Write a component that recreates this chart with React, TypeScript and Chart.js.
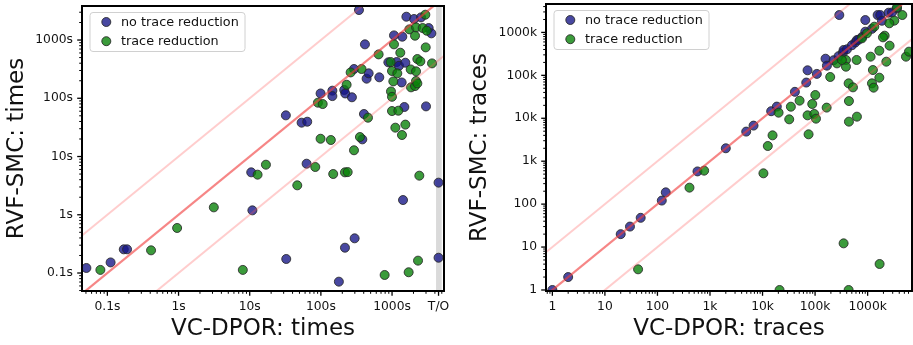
import React, { useEffect, useRef } from 'react';
import { Chart, registerables } from 'chart.js';
Chart.register(...registerables);

const FONT = "'DejaVu Sans', 'Liberation Sans', sans-serif";
const TEXT_COLOR = '#111';

const LEGEND_LABELS = ['no trace reduction', 'trace reduction'];
const BLUE_FILL = 'rgba(20,20,135,0.78)';
const GREEN_FILL = 'rgba(10,130,10,0.8)';
const EDGE = 'rgba(40,40,40,0.85)';

// ---------- Left panel: times ----------
const timeTickVals = [0.1, 1, 10, 100, 1000, 4500];
const timeTickLabels = ['0.1s', '1s', '10s', '100s', '1000s', 'T/O'];
const timeYTickVals = [0.1, 1, 10, 100, 1000];
const timeYTickLabels = ['0.1s', '1s', '10s', '100s', '1000s'];
const timeTimeoutBand = [4150, 4990];

const timesNoRedX = [0.0507, 0.111, 0.17, 0.189, 10.5, 10.9, 32.2, 32.6, 53.6, 64.3, 63.0, 99, 145, 145, 179, 213, 220, 218, 273, 292, 298, 403, 382, 416, 439, 469, 662, 887, 1065, 1161, 1253, 1394, 1365, 1426, 1489, 1538, 1589, 2037, 2554, 3001, 3272, 3568, 4500, 4500, 343];
const timesNoRedY = [0.122, 0.152, 0.255, 0.255, 5.35, 1.19, 50.9, 0.174, 38.1, 39.6, 7.53, 121, 135, 109, 0.071, 139, 121, 0.272, 104, 318, 0.394, 53.7, 19.7, 843, 217, 268, 229, 414, 1202, 419, 362, 1141, 187, 1.79, 70.8, 408, 2515, 2296, 2449, 72.6, 1607, 1302, 3.56, 0.183, 3273];

const timesRedX = [0.0797, 0.411, 0.955, 3.13, 8.0, 12.9, 16.9, 46.6, 83.4, 90.9, 106, 99, 138, 149, 230, 218, 238, 262, 292, 373, 354, 459, 648, 787, 955, 998, 966, 998, 998, 1065, 1042, 1112, 1186, 1225, 1306, 1379, 1538, 1711, 1749, 1828, 1847, 2103, 2103, 2173, 2267, 2173, 2267, 2500, 2317, 2417, 2173, 2692, 2937, 2971, 3070, 3645];
const timesRedY = [0.113, 0.245, 0.593, 1.34, 0.113, 4.88, 7.24, 3.2, 6.61, 84, 79.6, 20.2, 19.2, 5.01, 171, 5.35, 5.4, 278, 12.8, 318, 21.6, 46.4, 567, 0.0925, 419, 294, 131, 106, 60.4, 843, 195, 31.3, 268, 61.2, 606, 23.4, 35.3, 0.103, 1524, 313, 154, 1187, 162, 198, 180, 290, 472, 431, 0.163, 4.69, 1650, 1607, 2723, 748, 1446, 397];

// reference lines y = x, y = 10x, y = x/10
const timeDiagX = [0.001, 100000];
const timeDiagY = [0.001, 100000];
const timeUpperY = [0.01, 1000000];
const timeLowerY = [0.0001, 10000];

// ---------- Right panel: traces ----------
const traceTickVals = [1, 10, 100, 1000, 10000, 100000, 1000000];
const traceTickLabels = ['1', '10', '100', '1k', '10k', '100k', '1000k'];

const tracesNoRedX = [1, 2, 20, 30, 48, 121, 144, 578, 2000, 4890, 6740, 14600, 18700, 41300, 67900, 71900, 108000, 158000, 168000, 289000, 903000, 903000, 1550000, 1740000, 2510000, 225000, 280000, 339000, 349000, 404000, 503000, 582000, 626000, 674000, 780000, 1210000, 1870000, 2910000, 3620000];
const tracesNoRedY = [1, 2, 20, 30, 48, 121, 188, 578, 2000, 4890, 6740, 14600, 18700, 41300, 67900, 131000, 108000, 244000, 168000, 2540000, 1940000, 1040000, 2540000, 2540000, 2880000, 225000, 280000, 339000, 389000, 404000, 503000, 582000, 665000, 674000, 780000, 1210000, 1870000, 2910000, 3620000];

const tracesRedX = [42.8, 407, 774, 10400, 12600, 15500, 20200, 32200, 34600, 50700, 71900, 75200, 88300, 96400, 101000, 104000, 166000, 194000, 21100, 349000, 435000, 1690000, 387000, 387000, 435000, 526000, 441000, 441000, 626000, 617000, 1140000, 1260000, 1210000, 1300000, 1670000, 1670000, 2110000, 1960000, 2620000, 2270000, 3220000, 4570000, 5370000, 6120000, 3620000, 1340000, 2590000, 261000, 324000, 780000, 971000];
const tracesRedY = [3.03, 242, 602, 522, 2260, 4000, 13500, 9440, 18600, 25700, 11700, 4230, 21500, 12600, 34800, 9790, 17700, 91500, 1, 12.2, 1, 4.03, 228000, 159000, 65100, 52500, 25200, 8340, 10900, 228000, 272000, 133000, 65100, 51600, 88300, 375000, 839000, 768000, 491000, 208000, 1880000, 2540000, 272000, 356000, 3840000, 1360000, 1630000, 190000, 228000, 727000, 951000];

const traceDiagX = [0.01, 100000000];
const traceDiagY = [0.01, 100000000];
const traceUpperY = [0.1, 1000000000];
const traceLowerY = [0.001, 10000000];

const pairs = (xs: number[], ys: number[]) => xs.map((x, i) => ({ x, y: ys[i] }));

type Panel = {
  width: number;
  yWidth: number;
  padRight: number;
  padTop: number;
  xMin: number; xMax: number; yMin: number; yMax: number;
  xTicks: number[]; xLabels: string[]; yTicks: number[]; yLabels: string[];
  xTitle: string; yTitle: string; yTitlePad: number;
  blue: { x: number; y: number }[];
  green: { x: number; y: number }[];
  diag: { x: number; y: number }[];
  upper: { x: number; y: number }[];
  lower: { x: number; y: number }[];
  band?: number[];
};

const near = (a: number, b: number) => Math.abs(Math.log10(a) - Math.log10(b)) < 1e-3;

const bandPlugin = {
  id: 'band',
  beforeDatasetsDraw(chart: any, _a: any, opts: any) {
    const band = opts && opts.range;
    if (!band) return;
    const { ctx, chartArea: a } = chart;
    const xs = chart.scales.x;
    const x0 = xs.getPixelForValue(band[0]);
    const x1 = xs.getPixelForValue(band[1]);
    ctx.save();
    ctx.fillStyle = '#dadada';
    ctx.fillRect(x0, a.top, x1 - x0, a.bottom - a.top);
    ctx.restore();
  },
};

const frameTicksPlugin = {
  id: 'frameTicks',
  afterDatasetsDraw(chart: any, _a: any, opts: any) {
    const { ctx, chartArea: a } = chart;
    ctx.save();
    ctx.strokeStyle = '#000';
    const doAxis = (scale: any, horizontal: boolean, majors: number[]) => {
      const lo = Math.floor(Math.log10(scale.min));
      const hi = Math.ceil(Math.log10(scale.max));
      const vals: { v: number; major: boolean }[] = [];
      for (let d = lo; d <= hi; d++) {
        for (let m = 1; m <= 9; m++) {
          const v = m * Math.pow(10, d);
          if (v < scale.min || v > scale.max) continue;
          if (majors.some((t) => near(t, v))) continue;
          vals.push({ v, major: false });
        }
      }
      majors.forEach((t) => vals.push({ v: t, major: true }));
      vals.forEach(({ v, major }) => {
        const p = scale.getPixelForValue(v);
        const len = major ? 4.8 : 2.8;
        ctx.lineWidth = major ? 1.3 : 1;
        ctx.beginPath();
        if (horizontal) {
          ctx.moveTo(p, a.bottom);
          ctx.lineTo(p, a.bottom + len);
        } else {
          ctx.moveTo(a.left, p);
          ctx.lineTo(a.left - len, p);
        }
        ctx.stroke();
      });
    };
    doAxis(chart.scales.x, true, opts.xMajors);
    doAxis(chart.scales.y, false, opts.yMajors);
    ctx.lineWidth = 2;
    ctx.strokeRect(a.left, a.top, a.right - a.left, a.bottom - a.top);
    ctx.restore();
  },
};

const drawMarker = (ctx: CanvasRenderingContext2D, x: number, y: number, fill: string) => {
  ctx.beginPath();
  ctx.arc(x, y, 4.5, 0, Math.PI * 2);
  ctx.fillStyle = fill;
  ctx.fill();
  ctx.lineWidth = 1;
  ctx.strokeStyle = EDGE;
  ctx.stroke();
};

const legendPlugin = {
  id: 'customLegend',
  afterDraw(chart: any) {
    const { ctx, chartArea: a } = chart;
    const bx = a.left + 8;
    const by = a.top + 6.5;
    const bw = 155;
    const bh = 39;
    ctx.save();
    ctx.beginPath();
    ctx.roundRect(bx, by, bw, bh, 3);
    ctx.fillStyle = 'rgba(255,255,255,0.85)';
    ctx.fill();
    ctx.lineWidth = 1;
    ctx.strokeStyle = '#d0d0d0';
    ctx.stroke();
    const fills = [BLUE_FILL, GREEN_FILL];
    LEGEND_LABELS.forEach((lab, i) => {
      const ry = by + 9.5 + i * 19.2;
      drawMarker(ctx, bx + 16.3, ry, fills[i]);
      ctx.fillStyle = TEXT_COLOR;
      ctx.font = `12.8px ${FONT}`;
      ctx.textBaseline = 'middle';
      ctx.textAlign = 'left';
      ctx.fillText(lab, bx + 31, ry + 0.5);
    });
    ctx.restore();
  },
};

function buildConfig(p: Panel): any {
  const lineDs = (data: any[], color: string, width: number) => ({
    data,
    showLine: true,
    borderColor: color,
    borderWidth: width,
    pointRadius: 0,
    fill: false,
    order: 0,
  });
  const pointDs = (label: string, data: any[], fill: string, order: number) => ({
    label,
    data,
    backgroundColor: fill,
    borderColor: EDGE,
    borderWidth: 1,
    pointRadius: 4.5,
    pointHoverRadius: 4.5,
    order,
  });
  const tickFont = { family: FONT, size: 12.3 };
  const titleFont = { family: FONT, size: 23 };
  const labelOf = (vals: number[], labels: string[]) => (v: any) => {
    const i = vals.findIndex((t) => near(t, Number(v)));
    return i >= 0 ? labels[i] : '';
  };
  return {
    type: 'scatter',
    data: {
      datasets: [
        lineDs(p.diag, 'rgba(240,60,60,0.62)', 2.2),
        lineDs(p.upper, 'rgba(255,90,90,0.3)', 2),
        lineDs(p.lower, 'rgba(255,90,90,0.3)', 2),
        pointDs(LEGEND_LABELS[1], p.green, GREEN_FILL, 1),
        pointDs(LEGEND_LABELS[0], p.blue, BLUE_FILL, 2),
      ],
    },
    options: {
      responsive: false,
      animation: false,
      events: [],
      layout: { autoPadding: false, padding: { left: 0, right: p.padRight, top: p.padTop, bottom: 0 } },
      plugins: {
        legend: { display: false },
        tooltip: { enabled: false },
        band: { range: p.band },
        frameTicks: { xMajors: p.xTicks, yMajors: p.yTicks },
      },
      scales: {
        x: {
          type: 'logarithmic',
          min: p.xMin,
          max: p.xMax,
          grid: { display: false, drawTicks: false },
          border: { display: false },
          ticks: { autoSkip: false, maxRotation: 0, minRotation: 0, font: tickFont, color: TEXT_COLOR, padding: 8, callback: labelOf(p.xTicks, p.xLabels) },
          afterBuildTicks: (s: any) => { s.ticks = p.xTicks.map((v) => ({ value: v })); },
          afterFit: (s: any) => { s.height = 54; s.paddingLeft = 0; s.paddingRight = 0; s.paddingTop = 0; s.paddingBottom = 0; },
          title: { display: true, text: p.xTitle, font: titleFont, color: TEXT_COLOR, padding: { top: 0, bottom: 2.2 } },
        },
        y: {
          type: 'logarithmic',
          min: p.yMin,
          max: p.yMax,
          grid: { display: false, drawTicks: false },
          border: { display: false },
          ticks: { autoSkip: false, font: tickFont, color: TEXT_COLOR, padding: 9, callback: labelOf(p.yTicks, p.yLabels) },
          afterBuildTicks: (s: any) => { s.ticks = p.yTicks.map((v) => ({ value: v })); },
          afterFit: (s: any) => { s.width = p.yWidth; s.paddingLeft = 0; s.paddingRight = 0; s.paddingTop = 0; s.paddingBottom = 0; },
          title: { display: true, text: p.yTitle, font: titleFont, color: TEXT_COLOR, padding: { top: p.yTitlePad, bottom: 0 } },
        },
      },
    },
    plugins: [bandPlugin, frameTicksPlugin, legendPlugin],
  };
}

const leftPanel: Panel = {
  width: 460,
  yWidth: 82,
  padRight: 16,
  padTop: 6,
  xMin: 0.044, xMax: 5370, yMin: 0.0491, yMax: 3840,
  xTicks: timeTickVals, xLabels: timeTickLabels,
  yTicks: timeYTickVals, yLabels: timeYTickLabels,
  xTitle: 'VC-DPOR: times', yTitle: 'RVF-SMC: times', yTitlePad: 3.2,
  blue: pairs(timesNoRedX, timesNoRedY),
  green: pairs(timesRedX, timesRedY),
  diag: pairs(timeDiagX, timeDiagY),
  upper: pairs(timeDiagX, timeUpperY),
  lower: pairs(timeDiagX, timeLowerY),
  band: timeTimeoutBand,
};

const rightPanel: Panel = {
  width: 453,
  yWidth: 86,
  padRight: 1,
  padTop: 4,
  xMin: 0.757, xMax: 6990000, yMin: 0.947, yMax: 4590000,
  xTicks: traceTickVals, xLabels: traceTickLabels,
  yTicks: traceTickVals, yLabels: traceTickLabels,
  xTitle: 'VC-DPOR: traces', yTitle: 'RVF-SMC: traces', yTitlePad: 6.2,
  blue: pairs(tracesNoRedX, tracesNoRedY),
  green: pairs(tracesRedX, tracesRedY),
  diag: pairs(traceDiagX, traceDiagY),
  upper: pairs(traceDiagX, traceUpperY),
  lower: pairs(traceDiagX, traceLowerY),
};

function ScatterPanel({ panel, left }: { panel: Panel; left: number }) {
  const ref = useRef<HTMLCanvasElement | null>(null);
  useEffect(() => {
    if (!ref.current) return;
    const chart = new Chart(ref.current, buildConfig(panel));
    return () => chart.destroy();
  }, [panel]);
  return (
    <canvas
      ref={ref}
      width={panel.width}
      height={345}
      style={{ position: 'absolute', left, top: 0, width: panel.width, height: 345, display: 'block' }}
    />
  );
}

export default function App() {
  return (
    <div style={{ position: 'absolute', left: 0, top: 0, width: 913, height: 345, background: '#fff', overflow: 'hidden' }}>
      <ScatterPanel panel={leftPanel} left={0} />
      <ScatterPanel panel={rightPanel} left={460} />
    </div>
  );
}
